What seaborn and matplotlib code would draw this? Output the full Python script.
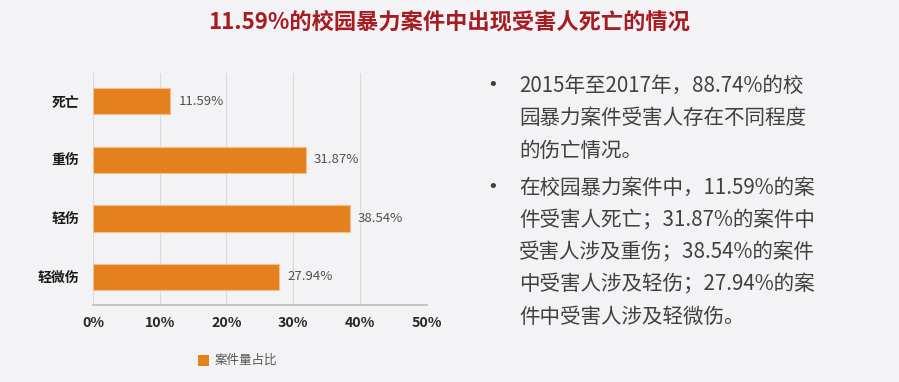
import matplotlib
matplotlib.use("Agg")
import matplotlib.pyplot as plt
import seaborn as sns
import pandas as pd
from matplotlib.patches import Rectangle

categories = ["死亡", "重伤", "轻伤", "轻微伤"]
values = [11.59, 31.87, 38.54, 27.94]
xticks = [0, 10, 20, 30, 40, 50]
xtick_labels = ["0%", "10%", "20%", "30%", "40%", "50%"]
title = "11.59%的校园暴力案件中出现受害人死亡的情况"
legend_label = "案件量占比"
bullets = [
    ["2015年至2017年，88.74%的校", "园暴力案件受害人存在不同程度", "的伤亡情况。"],
    ["在校园暴力案件中，11.59%的案", "件受害人死亡；31.87%的案件中", "受害人涉及重伤；38.54%的案件",
     "中受害人涉及轻伤；27.94%的案", "件中受害人涉及轻微伤。"],
]

sns.set_theme(style="white")
plt.rcParams['font.family'] = ['Noto Sans CJK SC', 'DejaVu Sans']

BG = "#F3F2F4"
ORANGE = "#E5801F"

fig = plt.figure(figsize=(8.99, 3.82), dpi=100, facecolor=BG)
ax = fig.add_axes([0.1035, 0.2016, 0.371, 0.607], facecolor=BG)

df = pd.DataFrame({"cat": categories, "val": values})
sns.barplot(data=df, x="val", y="cat", color=ORANGE, width=0.45, ax=ax,
            saturation=1, edgecolor="#F6C08A", linewidth=0.8)

ax.set_xlim(0, 50)
ax.set_ylim(3.48, -0.48)
ax.set_xticks(xticks)
ax.set_xticklabels(xtick_labels, fontsize=10.2, fontweight="bold", color="#262626")
ax.set_xlabel("")
ax.set_ylabel("")
ax.tick_params(axis="y", length=0, pad=10)
for lbl in ax.get_yticklabels():
    lbl.set_fontsize(10)
    lbl.set_fontweight("bold")
    lbl.set_color("#1a1a1a")
ax.tick_params(axis="x", length=3, direction="in", color="#BFBFBF", pad=8)
ax.grid(axis="x", color="#DADADA", linewidth=0.8)
ax.set_axisbelow(True)
for s in ["top", "right", "left"]:
    ax.spines[s].set_visible(False)
ax.spines["bottom"].set_color("#BFBFBF")

for i, v in enumerate(values):
    ax.text(v + 1.2, i, f"{v:.2f}%", va="center", ha="left", fontsize=9.5, color="#505050")

# legend
fig.patches.append(Rectangle((198 / 899, 1 - 366 / 382), 11 / 899, 11 / 382,
                             transform=fig.transFigure, facecolor=ORANGE, edgecolor="none"))
fig.text(215 / 899, 1 - 360 / 382, legend_label, fontsize=9, color="#555555", va="center", ha="left")

# title
fig.text(0.5, 1 - 22 / 382, title, fontsize=16, fontweight="bold", color="#A51C22",
         ha="center", va="center")

# right text
y = 86
for block in bullets:
    fig.text(493 / 899, 1 - (y - 1) / 382, "•", fontsize=13, color="#404040", ha="center", va="center",
             family="DejaVu Sans")
    for line in block:
        fig.text(519 / 899, 1 - y / 382, line, fontsize=14.8, color="#404040", ha="left", va="center")
        y += 32.3
    y += 5

fig.savefig("out.png", dpi=100, facecolor=BG)
